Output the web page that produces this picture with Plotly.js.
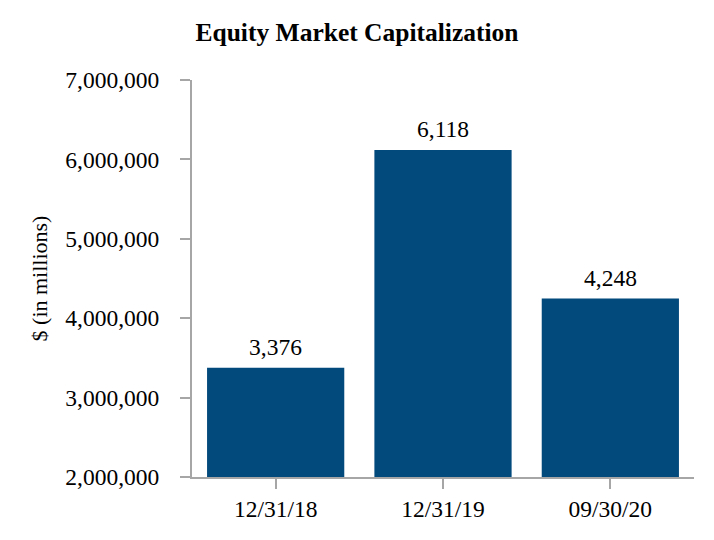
<!DOCTYPE html>
<html>
<head>
<meta charset="utf-8">
<script src="https://cdn.plot.ly/plotly-3.0.1.min.js"></script>
<style>
  html, body { margin: 0; padding: 0; background: #fff; }
  #chart { width: 714px; height: 540px; }
</style>
</head>
<body>
<div id="chart"></div>
<script>
// Data
var dates = ['12/31/18', '12/31/19', '09/30/20'];
var capValues = [3376000, 6118000, 4248000];
var capLabels = ['3,376', '6,118', '4,248'];
var yTickVals = [2000000, 3000000, 4000000, 5000000, 6000000, 7000000];
var yTickText = ['2,000,000', '3,000,000', '4,000,000', '5,000,000', '6,000,000', '7,000,000'];

var serif = 'Liberation Serif, Times New Roman, serif';

var barTrace = [{
	type: 'bar',
	x: dates,
	y: capValues,
	marker: { color: '#02497c' },
	hoverinfo: 'none'
}];

// value labels above each bar
var labelNotes = dates.map(function (d, i) {
	return {
		x: d,
		y: capValues[i],
		text: capLabels[i],
		showarrow: false,
		yanchor: 'bottom',
		yshift: 6,
		font: { family: serif, size: 23.5, color: '#000' }
	};
});

Plotly.newPlot('chart', barTrace, {
	width: 714,
	height: 540,
	margin: { l: 192, r: 20, t: 80, b: 63 },
	paper_bgcolor: '#fff',
	plot_bgcolor: '#fff',
	bargap: 0.18,
	showlegend: false,
	title: {
		text: '<b>Equity Market Capitalization</b>',
		font: { family: serif, size: 25.5, color: '#000' },
		x: 0.5,
		xref: 'container',
		y: 0.94,
		yanchor: 'middle'
	},
	xaxis: {
		type: 'category',
		showline: true,
		linecolor: '#a6a6a6',
		linewidth: 2,
		ticks: 'outside',
		ticklen: 10,
		tickwidth: 2,
		tickcolor: '#a6a6a6',
		showgrid: false,
		zeroline: false,
		ticklabelstandoff: 0,
		tickfont: { family: serif, size: 23.5, color: '#000' }
	},
	yaxis: {
		range: [2000000, 7000000],
		tickvals: yTickVals,
		ticktext: yTickText,
		showline: true,
		linecolor: '#a6a6a6',
		linewidth: 2,
		ticks: 'outside',
		ticklen: 10,
		tickwidth: 2,
		tickcolor: '#a6a6a6',
		showgrid: false,
		zeroline: false,
		ticklabelstandoff: 16,
		tickfont: { family: serif, size: 23.5, color: '#000' },
		title: {
			text: '$ (in millions)',
			font: { family: serif, size: 22, color: '#000' },
			standoff: 12
		}
	},
	annotations: labelNotes
}, { displayModeBar: false, staticPlot: true });
</script>
</body>
</html>
